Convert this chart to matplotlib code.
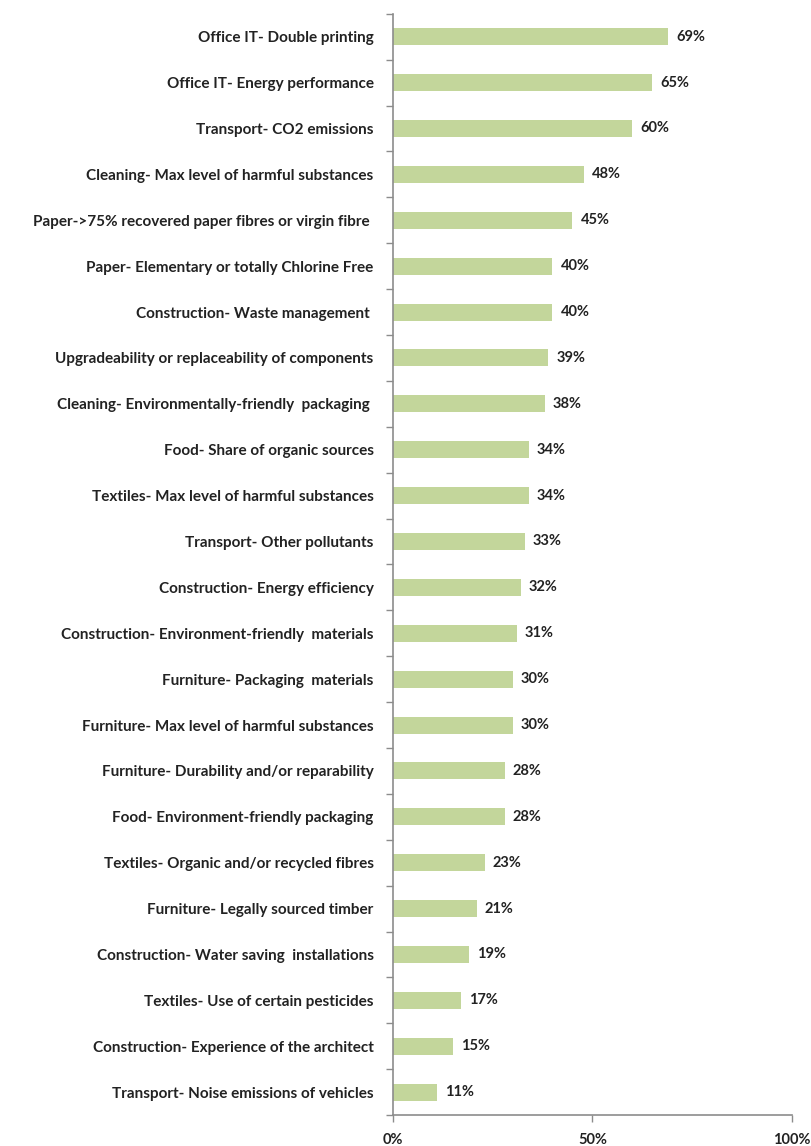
import matplotlib.pyplot as plt
from matplotlib.ticker import FixedLocator, PercentFormatter

criteria = [
    "Office IT- Double printing",
    "Office IT- Energy performance",
    "Transport- CO2 emissions",
    "Cleaning- Max level of harmful substances",
    "Paper->75% recovered paper fibres or virgin fibre ",
    "Paper- Elementary or totally Chlorine Free",
    "Construction- Waste management ",
    "Upgradeability or replaceability of components",
    "Cleaning- Environmentally-friendly  packaging ",
    "Food- Share of organic sources",
    "Textiles- Max level of harmful substances",
    "Transport- Other pollutants",
    "Construction- Energy efficiency",
    "Construction- Environment-friendly  materials",
    "Furniture- Packaging  materials",
    "Furniture- Max level of harmful substances",
    "Furniture- Durability and/or reparability",
    "Food- Environment-friendly packaging",
    "Textiles- Organic and/or recycled fibres",
    "Furniture- Legally sourced timber",
    "Construction- Water saving  installations",
    "Textiles- Use of certain pesticides",
    "Construction- Experience of the architect",
    "Transport- Noise emissions of vehicles",
]
share = [69, 65, 60, 48, 45, 40, 40, 39, 38, 34, 34, 33,
         32, 31, 30, 30, 28, 28, 23, 21, 19, 17, 15, 11]

plt.rcParams["font.family"] = ["Lato", "DejaVu Sans"]
text_color = "#222222"
axis_color = "#8c8c8c"
fsize = 11

fig = plt.figure(figsize=(8.12, 11.46), dpi=100)
ax = fig.add_axes([0.484, 0.027, 0.491, 0.961])

n = len(criteria)
ypos = list(range(n))
ax.barh(ypos, share, height=0.37, color="#c3d69b", zorder=2)
for y, v in zip(ypos, share):
    ax.text(v + 2.0, y, f"{v}%", va="center", ha="left",
            fontsize=fsize - 0.5, fontweight="bold", color=text_color)

ax.set_xlim(0, 100)
ax.set_ylim(n - 0.5, -0.5)
ax.set_xticks([0, 50, 100])
ax.xaxis.set_major_formatter(PercentFormatter(decimals=0))
ax.set_yticks(ypos)
ax.set_yticklabels(criteria)
ax.yaxis.set_minor_locator(FixedLocator([i + 0.5 for i in range(-1, n)]))

ax.tick_params(axis="y", which="major", length=0, pad=14,
               labelsize=fsize, labelcolor=text_color)
ax.tick_params(axis="y", which="minor", length=5, width=1, color=axis_color,
               direction="out")
ax.tick_params(axis="x", length=5, width=1, color=axis_color, direction="out",
               pad=8, labelsize=fsize - 0.5, labelcolor=text_color)
for lab in ax.get_yticklabels() + ax.get_xticklabels():
    lab.set_fontweight("bold")

for side in ("top", "right"):
    ax.spines[side].set_visible(False)
for side in ("left", "bottom"):
    ax.spines[side].set_color(axis_color)
    ax.spines[side].set_linewidth(1.2)

fig.savefig("out.png", dpi=100, facecolor="white")
